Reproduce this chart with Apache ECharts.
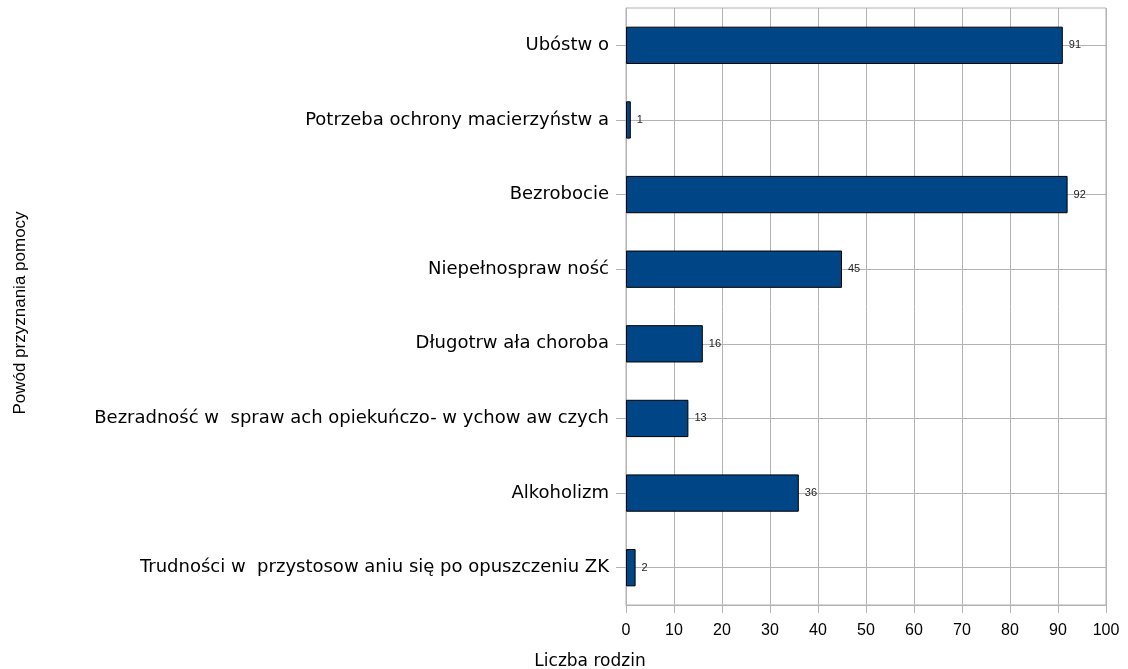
<!DOCTYPE html>
<html>
<head>
<meta charset="utf-8">
<script src="https://cdn.jsdelivr.net/npm/echarts@6/dist/echarts.min.js"></script>
<style>html,body{margin:0;padding:0;background:#fff}#c{width:1128px;height:669px}</style>
</head>
<body>
<div id="c"></div>
<script>
const categories = [
  "Ubóstw o",
  "Potrzeba ochrony macierzyństw a",
  "Bezrobocie",
  "Niepełnospraw ność",
  "Długotrw ała choroba",
  "Bezradność w  spraw ach opiekuńczo- w ychow aw czych",
  "Alkoholizm",
  "Trudności w  przystosow aniu się po opuszczeniu ZK"
];
const values = [91, 1, 92, 45, 16, 13, 36, 2];
const xTicks = { min: 0, max: 100, interval: 10 };
const xTitle = "Liczba rodzin";
const yTitle = "Powód przyznania pomocy";

const gridColor = '#b3b3b3';
const chart = echarts.init(document.getElementById('c'), null, { renderer: 'canvas' });
chart.setOption({
  animation: false,
  backgroundColor: '#fff',
  textStyle: { fontFamily: 'Liberation Sans, Arial, sans-serif' },
  grid: { left: 626, right: 22, top: 8, bottom: 64, show: true, borderColor: gridColor, borderWidth: 1 },
  graphic: [
    { type: 'text', x: 590, y: 662,
      style: { text: xTitle, align: 'center', verticalAlign: 'middle', fontSize: 17, fill: '#000', fontFamily: 'DejaVu Sans, sans-serif' } },
    { type: 'text', x: 20, y: 313, rotation: Math.PI / 2,
      style: { text: yTitle, align: 'center', verticalAlign: 'middle', fontSize: 17, fill: '#000', fontFamily: 'Liberation Sans, sans-serif' } }
  ],
  xAxis: {
    type: 'value',
    min: xTicks.min, max: xTicks.max, interval: xTicks.interval,
    axisLine: { show: true, lineStyle: { color: gridColor } },
    axisTick: { show: true, length: 8, lineStyle: { color: gridColor } },
    axisLabel: { fontSize: 16, color: '#000', margin: 18 },
    splitLine: { show: true, lineStyle: { color: gridColor, width: 1 } }
  },
  yAxis: {
    type: 'category',
    inverse: true,
    data: categories,
    axisLine: { show: true, lineStyle: { color: gridColor } },
    axisTick: { show: true, alignWithLabel: true, length: 10, lineStyle: { color: gridColor } },
    axisLabel: { fontSize: 18, color: '#000', margin: 17, fontFamily: 'DejaVu Sans, sans-serif' },
    splitLine: { show: true, alignWithLabel: true, lineStyle: { color: gridColor, width: 1 } }
  },
  series: [{
    type: 'bar',
    data: values,
    barWidth: '50%',
    itemStyle: { color: '#004586', borderColor: '#000', borderWidth: 1 },
    label: { show: true, position: 'right', distance: 6, fontSize: 11, color: '#222' }
  }]
});
</script>
</body>
</html>
